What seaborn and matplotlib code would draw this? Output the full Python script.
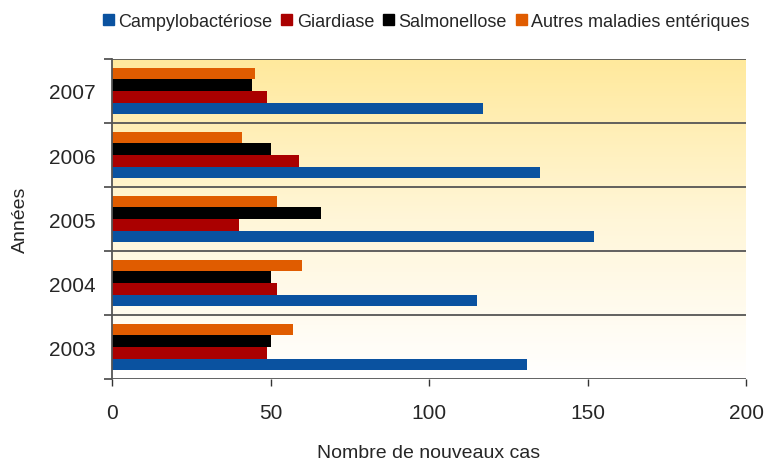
import numpy as np
import pandas as pd
import matplotlib
matplotlib.use("Agg")
import matplotlib.pyplot as plt
import seaborn as sns
from matplotlib.colors import LinearSegmentedColormap
from matplotlib.patches import Patch

sns.set_style("white")
plt.rcParams["font.family"] = ["Liberation Sans", "DejaVu Sans"]

# data
years = ["2007", "2006", "2005", "2004", "2003"]
campylo = [117, 135, 152, 115, 131]
giardiase = [49, 59, 40, 52, 49]
salmonellose = [44, 50, 66, 50, 50]
autres = [45, 41, 52, 60, 57]

maladies = ["Campylobactériose", "Giardiase", "Salmonellose", "Autres maladies entériques"]
couleurs = ["#0A52A0", "#AA0000", "#000000", "#E05C00"]

df = pd.DataFrame({
    "annee": years * 4,
    "maladie": [m for m in maladies for _ in years],
    "cas": campylo + giardiase + salmonellose + autres,
})

fig = plt.figure(figsize=(7.71, 4.64), dpi=100)
ax = fig.add_axes([0.1453, 0.181, 0.8223, 0.6897])

# yellow-to-white gradient background
cmap = LinearSegmentedColormap.from_list("bg", ["#FFFFFF", "#FFF6D8", "#FFE99C"])
grad = np.linspace(0, 1, 256).reshape(-1, 1)
ax.imshow(grad, aspect="auto", cmap=cmap, extent=[0, 1, 0, 1],
          transform=ax.transAxes, origin="lower", zorder=0)

hue_order = maladies[::-1]  # so Campylobactériose sits at the bottom of each group
sns.barplot(data=df, x="cas", y="annee", hue="maladie", order=years,
            hue_order=hue_order, palette=dict(zip(maladies, couleurs)),
            orient="h", width=0.72, saturation=1, errorbar=None,
            linewidth=0, ax=ax, zorder=2)

ax.set_xlim(0, 200)
ax.set_ylim(len(years) - 0.5, -0.5)
ax.set_xticks([0, 50, 100, 150, 200])
ax.tick_params(axis="x", bottom=True, labelsize=15, length=5, width=1,
               direction="out", color="#333333", pad=12)
ax.tick_params(axis="y", which="major", labelsize=15, length=0, pad=12)

# band separators
bounds = np.arange(-0.5, len(years), 1)
ax.set_yticks(bounds, minor=True)
ax.tick_params(axis="y", which="minor", left=True, length=6, width=1.3,
               direction="out", color="#555555")
for b in bounds:
    ax.axhline(b, color="#555555", lw=1.3, zorder=3)

for s in ["top", "right", "bottom"]:
    ax.spines[s].set_visible(False)
ax.spines["left"].set_color("#555555")
ax.spines["left"].set_linewidth(1.3)

ax.set_xlabel("Nombre de nouveaux cas", fontsize=14, labelpad=16)
ax.set_ylabel("Années", fontsize=14, labelpad=14)

handles = [Patch(color=c) for c in couleurs]
ax.get_legend().remove()
fig.legend(handles, maladies, loc="upper center", bbox_to_anchor=(0.553, 1.005),
           ncol=4, frameon=False, fontsize=13, handlelength=0.6, handleheight=0.6,
           handletextpad=0.25, columnspacing=0.5)

fig.savefig("out.png", dpi=100)
